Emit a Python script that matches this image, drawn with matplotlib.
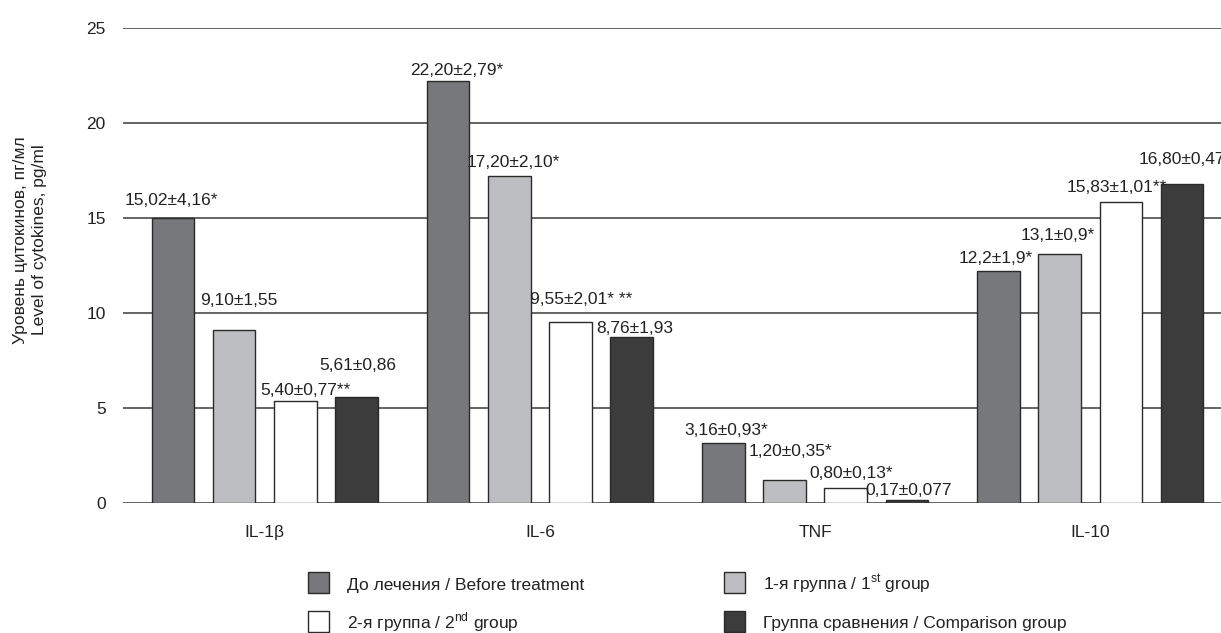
import matplotlib.pyplot as plt
import numpy as np
from matplotlib.patches import Rectangle

plt.rcParams['font.family'] = ['Liberation Sans', 'DejaVu Sans']
FS = 12.5
plt.rcParams['font.size'] = FS

cytokines = ['IL-1β', 'IL-6', 'TNF', 'IL-10']
groups = ['До лечения / Before treatment',
          '1-я группа / 1$^{\\mathregular{st}}$ group',
          '2-я группа / 2$^{\\mathregular{nd}}$ group',
          'Группа сравнения / Comparison group']

before = [15.02, 22.20, 3.16, 12.2]
group1 = [9.10, 17.20, 1.20, 13.1]
group2 = [5.40, 9.55, 0.80, 15.83]
comparison = [5.61, 8.76, 0.17, 16.80]

labels_before = ['15,02±4,16*', '22,20±2,79*', '3,16±0,93*', '12,2±1,9*']
labels_group1 = ['9,10±1,55', '17,20±2,10*', '1,20±0,35*', '13,1±0,9*']
labels_group2 = ['5,40±0,77**', '9,55±2,01* **', '0,80±0,13*', '15,83±1,01**']
labels_comparison = ['5,61±0,86', '8,76±1,93', '0,17±0,077', '16,80±0,47']

colors = ['#77787c', '#bdbec1', '#ffffff', '#3c3c3c']

# label offsets above each bar, in pixels (dx, dy)
label_offsets = [
    [(-2, 13), (9, 6), (3, 8), (-3, 8)],
    [(5, 25), (4, 9), (6, 24), (-2, 14)],
    [(10, 6), (11, 18), (5, 10), (-4, 10)],
    [(1, 27), (3, 4), (2, 5), (0, 20)],
]

series = [before, group1, group2, comparison]
series_labels = [labels_before, labels_group1, labels_group2, labels_comparison]

W, H = 1221, 633
fig = plt.figure(figsize=(W / 100, H / 100), dpi=100)
ax = fig.add_axes([123 / W, (H - 503.3) / H, (W - 123) / W, 475.6 / H])

x = np.arange(len(cytokines))
step = 0.2224
width = 0.1544
text_color = '#222222'

for k, (vals, labs) in enumerate(zip(series, series_labels)):
    pos = x + (k - 1.5) * step
    ax.bar(pos, vals, width=width, color=colors[k], edgecolor='#2a2a2a',
           linewidth=1.0, zorder=3)
    for i in range(len(vals)):
        dx, dy = label_offsets[k][i]
        ax.annotate(labs[i], xy=(pos[i], vals[i]), xytext=(dx, dy),
                    textcoords='offset pixels', ha='center', va='baseline',
                    fontsize=FS, color=text_color, zorder=4)

ax.set_xlim(-0.515, 3.475)
ax.set_ylim(0, 25)
ax.set_yticks([0, 5, 10, 15, 20, 25])
ax.set_xticks(x)
ax.set_xticklabels(cytokines)
ax.yaxis.grid(True, color='#3a3a3a', linewidth=1.1)
ax.set_axisbelow(True)
for s in ax.spines.values():
    s.set_visible(False)
ax.tick_params(axis='y', length=0, pad=12.5, labelsize=FS, labelcolor=text_color)
ax.tick_params(axis='x', length=0, pad=15.5, labelsize=FS, labelcolor=text_color)

fig.text(30 / W, 1 - 240 / H, 'Уровень цитокинов, пг/мл\nLevel of cytokines, pg/ml',
         rotation=90, ha='center', va='center', multialignment='center',
         linespacing=1.3, fontsize=FS, color=text_color)

# legend drawn as two columns of swatches
legend_cols = [307.7, 724.3]
legend_rows = [593.3, 631.7]
order = [(0, 0, 0), (1, 1, 0), (2, 0, 1), (3, 1, 1)]
for k, c, r in order:
    left = legend_cols[c]
    bottom = legend_rows[r]
    fig.add_artist(Rectangle((left / W, 1 - bottom / H), 21 / W, 21 / H,
                             transform=fig.transFigure, facecolor=colors[k],
                             edgecolor='#2a2a2a', linewidth=1.0))
    fig.text((left + 39) / W, 1 - (bottom - 3.5) / H, groups[k],
             ha='left', va='baseline', fontsize=FS, color=text_color)

fig.savefig('out.png', dpi=100)
